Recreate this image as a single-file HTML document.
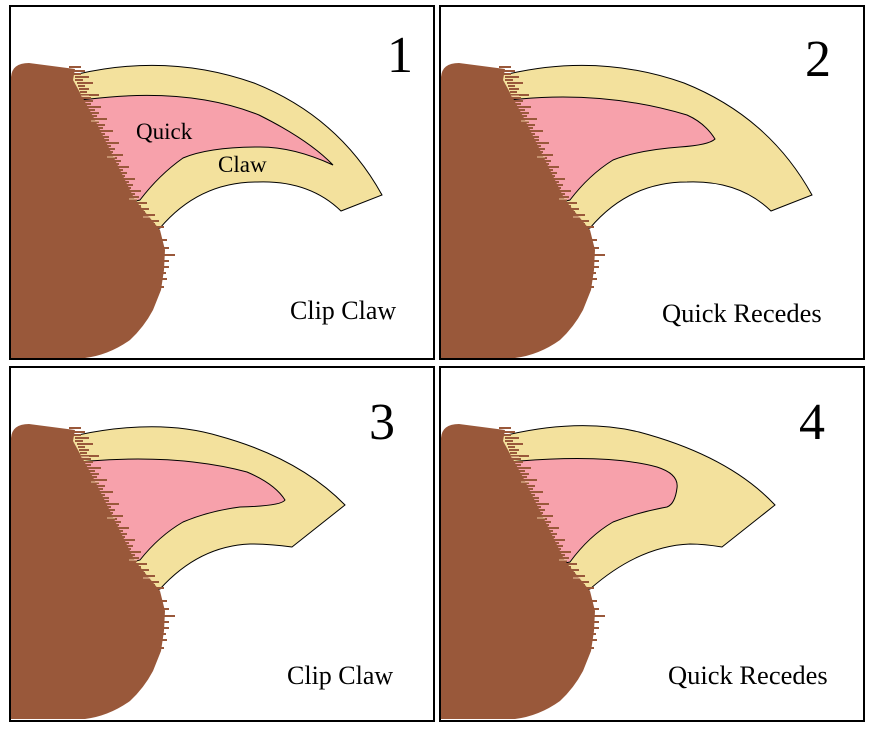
<!DOCTYPE html>
<html><head><meta charset="utf-8"><style>
html,body{margin:0;padding:0;background:#fff;width:874px;height:734px;overflow:hidden}
svg{display:block}
text{font-family:"Liberation Serif",serif;fill:#000}
</style></head><body>
<svg width="874" height="734" viewBox="0 0 874 734" xmlns="http://www.w3.org/2000/svg">
<defs>
<g id="brown">
<path d="M2,353 L2,72 Q3,58 20,58 L66,64 L64,75 L86,115 L106,155 L126,195 L151,225 L156,245 L155,265 L152,285 L144,305 Q135,322 121,335 Q100,350 76,353 Z" fill="#99583a"/>
<g stroke="#99583a" stroke-width="2">
<line x1="60" y1="62" x2="72" y2="62"/><line x1="62" y1="66" x2="76" y2="66"/>
<line x1="64" y1="69" x2="72" y2="69"/><line x1="66" y1="72" x2="80" y2="72"/>
<line x1="66" y1="75" x2="74" y2="75"/><line x1="68" y1="78" x2="84" y2="78"/>
<line x1="69" y1="81" x2="76" y2="81"/><line x1="70" y1="84" x2="80" y2="84"/>
<line x1="71" y1="87" x2="78" y2="87"/><line x1="72" y1="90" x2="90" y2="90"/>
<line x1="73" y1="93" x2="82" y2="93"/><line x1="74" y1="96" x2="84" y2="96"/>
<line x1="75" y1="99" x2="82" y2="99"/><line x1="76" y1="102" x2="92" y2="102"/>
<line x1="78" y1="105" x2="86" y2="105"/><line x1="79" y1="108" x2="90" y2="108"/>
<line x1="80" y1="111" x2="88" y2="111"/><line x1="82" y1="114" x2="98" y2="114"/>
<line x1="83" y1="117" x2="90" y2="117"/><line x1="84" y1="120" x2="96" y2="120"/>
<line x1="86" y1="123" x2="94" y2="123"/><line x1="87" y1="126" x2="104" y2="126"/>
<line x1="88" y1="129" x2="96" y2="129"/><line x1="90" y1="132" x2="100" y2="132"/>
<line x1="91" y1="135" x2="100" y2="135"/><line x1="93" y1="138" x2="110" y2="138"/>
<line x1="94" y1="141" x2="102" y2="141"/><line x1="96" y1="144" x2="106" y2="144"/>
<line x1="97" y1="147" x2="104" y2="147"/><line x1="99" y1="150" x2="114" y2="150"/>
<line x1="100" y1="153" x2="108" y2="153"/><line x1="102" y1="156" x2="112" y2="156"/>
<line x1="103" y1="159" x2="110" y2="159"/><line x1="104" y1="162" x2="120" y2="162"/>
<line x1="106" y1="165" x2="114" y2="165"/><line x1="107" y1="168" x2="118" y2="168"/>
<line x1="109" y1="171" x2="116" y2="171"/><line x1="110" y1="174" x2="126" y2="174"/>
<line x1="112" y1="177" x2="120" y2="177"/><line x1="113" y1="180" x2="124" y2="180"/>
<line x1="115" y1="183" x2="122" y2="183"/><line x1="116" y1="186" x2="132" y2="186"/>
<line x1="118" y1="189" x2="126" y2="189"/><line x1="119" y1="192" x2="130" y2="192"/>
<line x1="121" y1="195" x2="128" y2="195"/><line x1="122" y1="198" x2="138" y2="198"/>
<line x1="124" y1="201" x2="132" y2="201"/><line x1="125" y1="204" x2="140" y2="204"/>
<line x1="127" y1="207" x2="136" y2="207"/><line x1="128" y1="210" x2="146" y2="210"/>
<line x1="131" y1="213" x2="140" y2="213"/><line x1="134" y1="216" x2="150" y2="216"/>
<line x1="137" y1="219" x2="146" y2="219"/><line x1="140" y1="222" x2="155" y2="222"/>
<line x1="150" y1="235" x2="158" y2="235"/><line x1="152" y1="243" x2="160" y2="243"/>
<line x1="150" y1="250" x2="166" y2="250"/><line x1="152" y1="256" x2="160" y2="256"/>
<line x1="150" y1="262" x2="160" y2="262"/><line x1="150" y1="268" x2="157" y2="268"/>
<line x1="148" y1="274" x2="158" y2="274"/><line x1="148" y1="282" x2="155" y2="282"/>
</g>
<g stroke="#f0c8a0" stroke-width="1">
<line x1="72" y1="91" x2="80" y2="91"/><line x1="82" y1="116" x2="90" y2="116"/>
<line x1="98" y1="152" x2="106" y2="152"/><line x1="120" y1="194" x2="128" y2="194"/>
<line x1="134" y1="212" x2="142" y2="212"/>
</g>
</g>
</defs>

<!-- Panel 1 -->
<g transform="translate(9,5)">
<rect x="1" y="1" width="424" height="353" fill="#fff" stroke="#000" stroke-width="2"/>
<path d="M60,70 L69,69 Q160,48 245,78 Q330,112 373,190 L332,206 Q300,175 248,177 Q190,177 151,223 L140,225 Z" fill="#f3e19d" stroke="#000" stroke-width="1"/>
<path d="M70,95 L81,94 Q180,82 250,110 Q300,135 324,160 Q285,142 251,142 Q200,142 174,153 Q150,170 131,195 L110,200 Z" fill="#f7a1ab" stroke="#000" stroke-width="1"/>
<use href="#brown"/>
<text x="378" y="67" font-size="52">1</text>
<text x="127" y="134" font-size="23">Quick</text>
<text x="209" y="167" font-size="23">Claw</text>
<text x="281" y="314" font-size="26">Clip Claw</text>
</g>

<!-- Panel 2 -->
<g transform="translate(439,5)">
<rect x="1" y="1" width="424" height="353" fill="#fff" stroke="#000" stroke-width="2"/>
<path d="M60,70 L69,69 Q160,48 245,78 Q330,112 373,190 L332,206 Q300,175 248,177 Q190,177 151,223 L140,225 Z" fill="#f3e19d" stroke="#000" stroke-width="1"/>
<path d="M70,95 L81,94 Q168,86 248,110 Q266,118 276,134 Q270,140 241,142 Q200,145 174,155 Q150,170 131,195 L110,200 Z" fill="#f7a1ab" stroke="#000" stroke-width="1"/>
<use href="#brown"/>
<text x="366" y="71" font-size="52">2</text>
<text x="223" y="317" font-size="26.5">Quick Recedes</text>
</g>

<!-- Panel 3 -->
<g transform="translate(9,366)">
<rect x="1" y="1" width="424" height="354" fill="#fff" stroke="#000" stroke-width="2"/>
<path d="M60,70 L69,69 Q150,52 210,70 Q290,92 336,139 L283,181 Q260,178 241,178 Q190,180 151,223 L140,225 Z" fill="#f3e19d" stroke="#000" stroke-width="1"/>
<path d="M70,96 L81,95 Q170,88 238,106 Q266,118 276,134 Q272,140 231,141 Q200,145 174,156 Q150,170 131,194 L110,200 Z" fill="#f7a1ab" stroke="#000" stroke-width="1"/>
<use href="#brown"/>
<text x="360" y="73" font-size="52">3</text>
<text x="278" y="318" font-size="26">Clip Claw</text>
</g>

<!-- Panel 4 -->
<g transform="translate(439,366)">
<rect x="1" y="1" width="424" height="354" fill="#fff" stroke="#000" stroke-width="2"/>
<path d="M60,70 L68,69 Q141,52 200,66 Q290,90 336,139 L283,181 Q265,178 251,178 Q200,180 151,223 L140,225 Z" fill="#f3e19d" stroke="#000" stroke-width="1"/>
<path d="M70,96 L81,95 Q170,88 218,101 Q240,108 238,122 Q236,138 228,141 Q200,146 174,156 Q150,170 131,196 L110,200 Z" fill="#f7a1ab" stroke="#000" stroke-width="1"/>
<use href="#brown"/>
<text x="360" y="73" font-size="52">4</text>
<text x="229" y="318" font-size="26.5">Quick Recedes</text>
</g>
</svg>
</body></html>
